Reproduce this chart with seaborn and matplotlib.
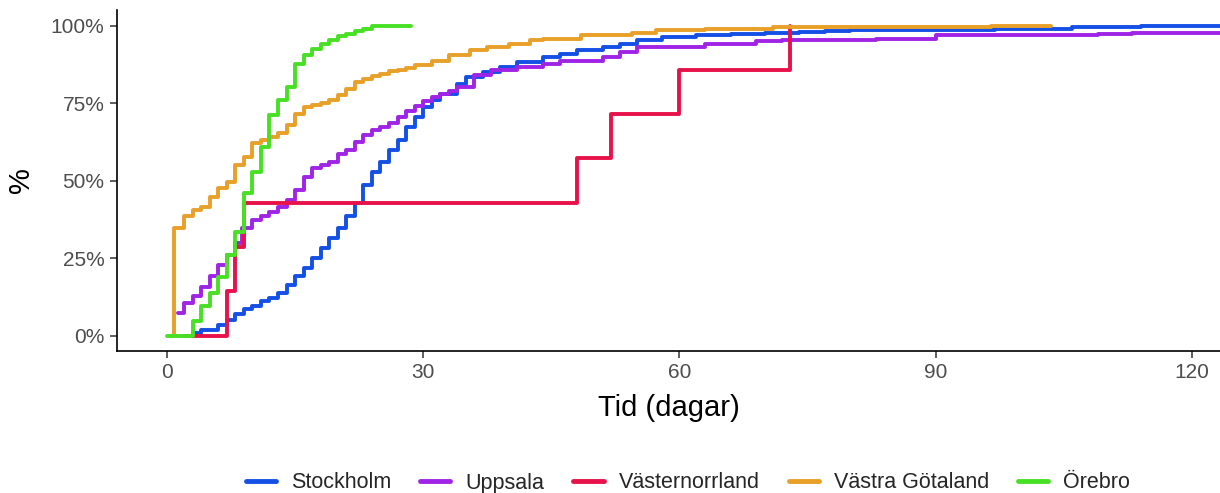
import matplotlib
matplotlib.use("Agg")
import matplotlib.pyplot as plt
import seaborn as sns
import pandas as pd
from matplotlib.ticker import FuncFormatter
from matplotlib.lines import Line2D

# ---- data (days, cumulative %) ----
regions = ["Stockholm", "Uppsala", "Västernorrland", "Västra Götaland", "Örebro"]
colors = ["#1550E6", "#A024E6", "#E8124A", "#E8A028", "#48E024"]

stockholm_days = [3, 4, 6, 7, 8, 9, 10, 11, 12, 13, 14, 15, 16, 17, 18, 19, 20, 21, 22, 23, 24, 25,
                  26, 27, 28, 29, 30, 31, 32, 34, 35, 37, 39, 41, 44, 46, 48, 51, 53, 55, 58, 62,
                  66, 70, 74, 77, 80, 85, 90, 97, 106, 114, 122, 126]
stockholm_pct = [0.9, 1.9, 3.5, 5.1, 6.8, 8.4, 9.4, 11.0, 12.1, 13.7, 16.4, 19.1, 21.8, 25.0, 28.2,
                 31.4, 34.6, 38.4, 42.7, 48.6, 52.8, 56.0, 59.8, 63.0, 67.3, 70.5, 73.7, 75.9, 78.0,
                 81.2, 83.4, 85.0, 86.6, 88.2, 89.8, 90.8, 92.0, 93.0, 94.1, 95.4, 96.3, 96.8, 97.3,
                 97.6, 97.9, 98.2, 98.4, 98.6, 98.7, 98.9, 99.6, 99.8, 100.0, 100.0]

uppsala_days = [1.3, 2, 3, 4, 5, 6, 7, 8, 8.8, 10, 11, 12, 13, 14, 15, 16, 17, 18, 19, 20, 21, 22, 23,
                24, 25, 26, 27, 28, 29, 30, 31, 32, 33, 34, 36, 38, 41, 44, 46, 51, 53, 55, 63, 69,
                72, 83, 90, 109, 113, 126]
uppsala_pct = [7.3, 10.5, 12.6, 15.8, 19.1, 22.8, 26.0, 29.8, 34.6, 37.3, 38.4, 40.0, 41.6, 43.7,
               46.9, 51.2, 53.9, 55.0, 56.0, 58.7, 59.8, 62.5, 64.6, 66.2, 67.3, 68.4, 70.5, 72.5,
               74.0, 75.5, 76.8, 78.0, 78.8, 80.2, 83.9, 85.5, 86.6, 87.7, 88.7, 89.8, 91.4, 93.0,
               94.1, 95.0, 95.4, 95.7, 96.8, 97.1, 97.5, 97.5]

vasternorrland_days = [2, 7, 8, 9, 48, 52, 60, 73]
vasternorrland_pct = [0.0, 14.3, 28.6, 42.9, 57.1, 71.4, 85.7, 100.0]

vastra_gotaland_days = [0.8, 0.8, 2, 3, 4, 5, 6, 7, 8, 9, 10, 11, 12, 13, 14, 15, 16, 17, 18, 19, 20,
                        21, 22, 23, 24, 25, 26, 27, 28, 29, 31, 33, 35.5, 37.5, 40, 42.5, 44, 48.5,
                        54.5, 57.3, 63, 71, 96.5, 103.5]
vastra_gotaland_pct = [0.0, 34.6, 38.4, 40.5, 41.6, 44.8, 47.5, 49.6, 55.0, 57.7, 62.0, 63.0, 64.1,
                       65.2, 67.8, 71.6, 73.7, 74.5, 75.0, 75.9, 77.5, 79.6, 81.8, 82.9, 83.6, 84.5,
                       85.3, 85.8, 86.4, 87.1, 88.7, 90.4, 92.0, 93.0, 94.1, 95.2, 95.7, 96.8, 97.5,
                       98.6, 99.0, 99.5, 100.0, 100.0]

orebro_days = [0, 3, 4, 5, 6, 7, 8, 9, 10, 11, 12, 13, 14, 15, 16, 17, 18, 19, 20, 21, 22, 23, 24, 28.6]
orebro_pct = [0.0, 4.6, 9.4, 13.8, 19.0, 26.0, 33.5, 45.9, 52.8, 60.9, 71.0, 75.9, 80.2, 87.7, 90.4,
              92.5, 94.1, 95.2, 96.5, 97.3, 98.2, 99.0, 99.7, 99.7]

series = {
    "Stockholm": (stockholm_days, stockholm_pct),
    "Uppsala": (uppsala_days, uppsala_pct),
    "Västernorrland": (vasternorrland_days, vasternorrland_pct),
    "Västra Götaland": (vastra_gotaland_days, vastra_gotaland_pct),
    "Örebro": (orebro_days, orebro_pct),
}

sns.set_theme(style="white")
plt.rcParams["font.family"] = ["Liberation Sans", "DejaVu Sans"]

fig = plt.figure(figsize=(12.2, 4.93), dpi=100)
ax = fig.add_axes([117 / 1220, 1 - 351 / 493, 1 - 117 / 1220, (351 - 10) / 493])

palette = dict(zip(regions, colors))
for name in regions:
    d, p = series[name]
    df = pd.DataFrame({"Tid": d, "pct": p})
    sns.lineplot(data=df, x="Tid", y="pct", ax=ax, color=palette[name], linewidth=2.8,
                 drawstyle="steps-post", estimator=None, sort=False, legend=False)

ax.set_xlim(-5.85, 123.3)
ax.set_ylim(-5, 105)
ax.set_xticks([0, 30, 60, 90, 120])
ax.set_yticks([0, 25, 50, 75, 100])
ax.yaxis.set_major_formatter(FuncFormatter(lambda v, _: f"{int(v)}%"))

for s in ["top", "right"]:
    ax.spines[s].set_visible(False)
for s in ["left", "bottom"]:
    ax.spines[s].set_color("black")
    ax.spines[s].set_linewidth(1.2)

ax.tick_params(axis="both", which="major", length=5, width=1.1, color="#333333",
               labelsize=15, labelcolor="#4D4D4D", direction="out", pad=4,
               left=True, bottom=True)
ax.set_xlabel("Tid (dagar)", fontsize=21, color="black", labelpad=8)
ax.set_ylabel("%", fontsize=21, color="black", labelpad=11)

handles = [Line2D([0], [0], color=palette[n], linewidth=3.5) for n in regions]
fig.legend(handles, regions, loc="center", ncol=5, frameon=False,
           bbox_to_anchor=(688 / 1220, 1 - 483 / 493), fontsize=15.5,
           handlelength=1.4, columnspacing=1.35, handletextpad=0.7)

fig.savefig("out.png", dpi=100)
